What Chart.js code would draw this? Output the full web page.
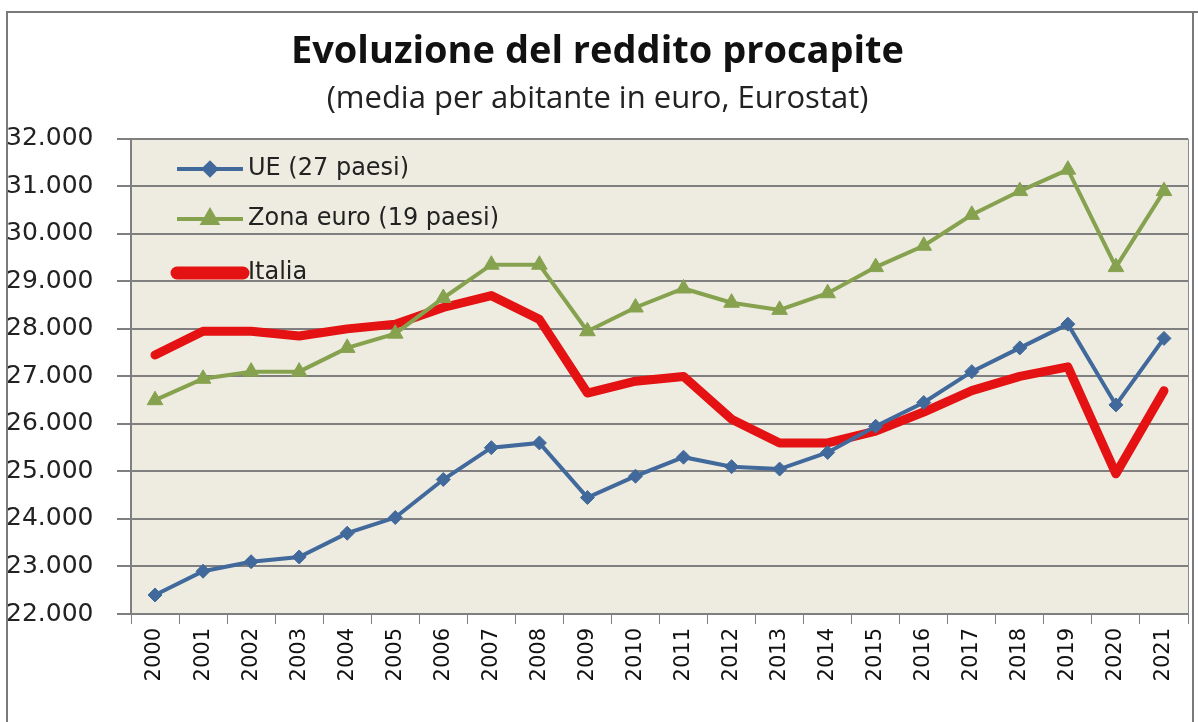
<!DOCTYPE html>
<html>
<head>
<meta charset="utf-8">
<script src="https://cdn.jsdelivr.net/npm/chart.js@4"></script>
<style>
  html, body { margin: 0; padding: 0; background: #fff; }
  #wrap { width: 1198px; height: 722px; }
</style>
</head>
<body>
<div id="wrap"><canvas id="lineChart"></canvas></div>
<script>
// anni
const years = ["2000","2001","2002","2003","2004","2005","2006","2007","2008","2009","2010",
  "2011","2012","2013","2014","2015","2016","2017","2018","2019","2020","2021"];

// reddito medio per abitante (euro)
const ue27 = [22400, 22900, 23100, 23200, 23700, 24030, 24830, 25500, 25600, 24450, 24900,
  25300, 25100, 25050, 25400, 25950, 26450, 27100, 27600, 28100, 26400, 27800];
const zonaEuro = [26500, 26950, 27100, 27100, 27600, 27900, 28650, 29350, 29350, 27950, 28450,
  28850, 28550, 28400, 28750, 29300, 29750, 30400, 30900, 31350, 29300, 30900];
const italia = [27450, 27950, 27950, 27850, 28000, 28100, 28450, 28700, 28200, 26650, 26900,
  27000, 26100, 25600, 25600, 25850, 26250, 26700, 27000, 27200, 24950, 26700];

const yMin = 22000, yMax = 32000, yStep = 1000;

const blue = "#41699b";
const green = "#86a24f";
const red = "#e41212";

// sfondo area grafico + cornice esterna
const areaBg = {
  id: 'areaBg',
  beforeDraw(chart) {
    const { ctx, chartArea: a } = chart;
    ctx.save();
    ctx.fillStyle = "#eeece1";
    ctx.fillRect(a.left, a.top, a.right - a.left, a.bottom - a.top);
    ctx.restore();
  },
  afterDraw(chart) {
    const { ctx, chartArea: a } = chart;
    ctx.save();
    ctx.strokeStyle = "#8c8c8c";
    ctx.lineWidth = 1;
    ctx.beginPath();
    ctx.moveTo(a.right + 0.5, a.top);
    ctx.lineTo(a.right + 0.5, a.bottom);
    ctx.stroke();
    ctx.strokeStyle = "#7a7a7a";
    ctx.lineWidth = 2;
    ctx.beginPath();
    ctx.moveTo(7, 722);
    ctx.lineTo(7, 12);
    ctx.lineTo(1198, 12);
    ctx.moveTo(1193, 12);
    ctx.lineTo(1193, 722);
    ctx.stroke();
    ctx.restore();
  }
};

// legenda dentro l'area del grafico, come in Excel
const innerLegend = {
  id: 'innerLegend',
  afterDatasetsDraw(chart) {
    const { ctx } = chart;
    const rows = [169, 219, 273];
    ctx.save();
    chart.data.datasets.forEach((ds, i) => {
      const y = rows[i];
      ctx.strokeStyle = ds.borderColor;
      ctx.lineWidth = ds.borderWidth + (i === 2 ? 4 : 0);
      ctx.lineCap = i === 2 ? 'round' : 'butt';
      ctx.beginPath();
      ctx.moveTo(177, y);
      ctx.lineTo(243, y);
      ctx.stroke();
      if (ds.pointStyle) {
        Chart.helpers.drawPoint(ctx, {
          pointStyle: ds.pointStyle,
          radius: ds.pointRadius - 1,
          borderWidth: 1
        }, 210, y);
        ctx.fillStyle = ds.borderColor;
        ctx.fill();
      }
      ctx.fillStyle = "#222";
      ctx.font = "24px 'DejaVu Sans'";
      ctx.textBaseline = 'middle';
      ctx.fillText(ds.label, 248, y);
    });
    ctx.restore();
  }
};

new Chart(document.getElementById("lineChart"), {
  type: 'line',
  data: {
    labels: years,
    datasets: [{
      label: 'UE (27 paesi)',
      data: ue27,
      borderColor: blue,
      backgroundColor: blue,
      borderWidth: 4,
      pointStyle: 'rectRot',
      pointRadius: 7,
      pointBorderWidth: 1
    }, {
      label: 'Zona euro (19 paesi)',
      data: zonaEuro,
      borderColor: green,
      backgroundColor: green,
      borderWidth: 4,
      pointStyle: 'triangle',
      pointRadius: 9,
      pointBorderWidth: 1
    }, {
      label: 'Italia',
      data: italia,
      borderColor: red,
      backgroundColor: red,
      borderWidth: 9,
      pointRadius: 0,
      borderJoinStyle: 'round',
      borderCapStyle: 'round'
    }]
  },
  options: {
    responsive: true,
    maintainAspectRatio: false,
    animation: false,
    layout: { padding: { left: 6, right: 9, top: 0, bottom: 0 } },
    plugins: {
      legend: { display: false },
      tooltip: { enabled: false },
      title: {
        display: true,
        text: 'Evoluzione del reddito procapite',
        color: '#111',
        font: { family: "'Open Sans'", size: 38, weight: 'bold' },
        padding: { top: 29, bottom: 3 }
      },
      subtitle: {
        display: true,
        text: '(media per abitante in euro, Eurostat)',
        color: '#222',
        font: { family: "'Open Sans'", size: 31 },
        padding: { top: 3, bottom: 21 }
      }
    },
    scales: {
      x: {
        offset: true,
        grid: { drawOnChartArea: false, offset: true, tickLength: 10, color: '#7f7f7f' },
        border: { color: '#7f7f7f', width: 2 },
        ticks: {
          color: '#111',
          minRotation: 90, maxRotation: 90,
          autoSkip: false,
          padding: 4,
          font: { family: "'DejaVu Sans'", size: 21 }
        },
        afterFit(scale) { scale.height = 108; }
      },
      y: {
        min: yMin, max: yMax,
        grid: { color: '#7f7f7f', lineWidth: 2, tickLength: 14 },
        border: { color: '#7f7f7f', width: 2 },
        ticks: {
          stepSize: yStep,
          color: '#222',
          crossAlign: 'far',
          padding: 2,
          font: { family: "'DejaVu Sans'", size: 25 },
          callback: v => v.toLocaleString('de-DE')
        },
        afterFit(scale) { scale.width = 125; }
      }
    }
  },
  plugins: [areaBg, innerLegend]
});
</script>
</body>
</html>
